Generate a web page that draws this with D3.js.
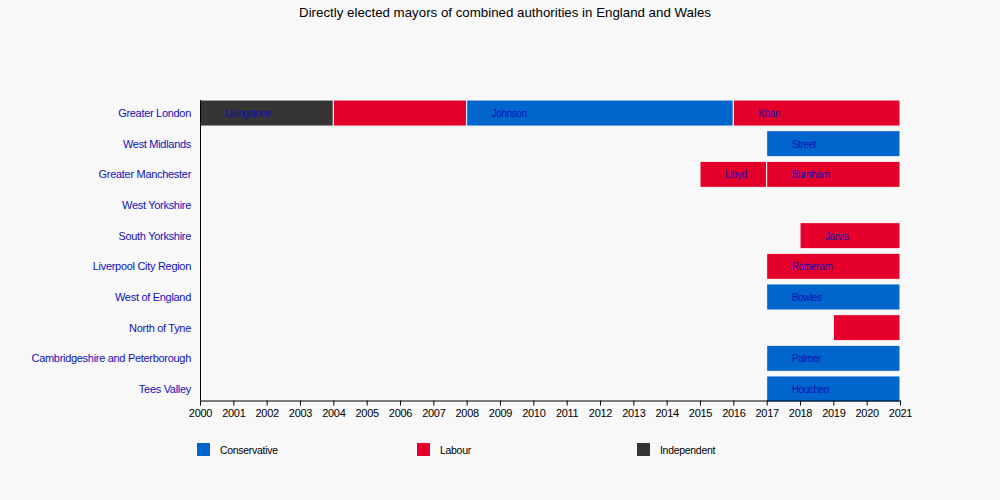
<!DOCTYPE html>
<html><head><meta charset="utf-8">
<script src="https://cdn.jsdelivr.net/npm/d3@7"></script>
<style>
body{margin:0;background:#f8f8f8;}
svg{display:block;font-family:"Liberation Sans",Arial,sans-serif;}
</style></head>
<body><svg id="c" width="1000" height="500"></svg>
<script>
const title = "Directly elected mayors of combined authorities in England and Wales";
const regions = ["Greater London","West Midlands","Greater Manchester","West Yorkshire","South Yorkshire","Liverpool City Region","West of England","North of Tyne","Cambridgeshire and Peterborough","Tees Valley"];
const years = d3.range(2000, 2022);
const parties = ["Conservative","Labour","Independent"];
const partyColors = ["#0066cc","#e4002b","#353535"];
// terms: region, start, end, party, mayor label
const termRegion = ["Greater London","Greater London","Greater London","Greater London","West Midlands","Greater Manchester","Greater Manchester","South Yorkshire","Liverpool City Region","West of England","North of Tyne","Cambridgeshire and Peterborough","Tees Valley"];
const termStart = [2000,2004,2008,2016,2017,2015,2017,2018,2017,2017,2019,2017,2017];
const termEnd   = [2004,2008,2016,2021,2021,2017,2021,2021,2021,2021,2021,2021,2021];
const termParty = ["Independent","Labour","Conservative","Labour","Conservative","Labour","Labour","Labour","Labour","Conservative","Labour","Conservative","Conservative"];
const termLabel = ["Livingstone","","Johnson","Khan","Street","Lloyd","Burnham","Jarvis","Rotheram","Bowles","","Palmer","Houchen"];

const terms = termRegion.map((r,i)=>({region:r,start:termStart[i],end:termEnd[i],party:termParty[i],label:termLabel[i]}));

const svg = d3.select("#c");
const x = d3.scaleLinear().domain([2000,2021]).range([200,900]);
const y = d3.scaleBand().domain(regions).range([100,402]).paddingInner(0.15).paddingOuter(0);
const color = d3.scaleOrdinal().domain(parties).range(partyColors);

svg.append("text").attr("x",505).attr("y",17).attr("text-anchor","middle")
  .attr("font-size",13.3).attr("fill","#000").text(title);

svg.append("g").selectAll("rect").data(terms).join("rect")
  .attr("x",d=>x(d.start)).attr("width",d=>x(d.end)-x(d.start))
  .attr("y",d=>y(d.region)).attr("height",y.bandwidth())
  .attr("fill",d=>color(d.party)).attr("stroke","#fff").attr("stroke-width",1);

svg.append("g").selectAll("text").data(terms.filter(d=>d.label)).join("text")
  .attr("x",d=>x(d.start)+25).attr("y",d=>y(d.region)+y.bandwidth()/2+4)
  .attr("font-size",10).attr("fill","#1010b8").attr("letter-spacing",-0.4).text(d=>d.label);

// y labels
svg.append("g").selectAll("text").data(regions).join("text")
  .attr("x",191).attr("y",d=>y(d)+y.bandwidth()/2+4).attr("text-anchor","end")
  .attr("font-size",11).attr("fill","#1010b8").attr("letter-spacing",-0.3).text(d=>d);

// y axis line
svg.append("line").attr("x1",200.5).attr("x2",200.5).attr("y1",100).attr("y2",400.5).attr("stroke","#000");

const xa = svg.append("g").attr("transform","translate(0,400.5)")
  .call(d3.axisBottom(x).tickValues(years).tickFormat(d3.format("d")).tickSize(5).tickSizeOuter(0));
xa.select(".domain").attr("stroke","#000");
xa.selectAll("text").attr("font-size",11).attr("fill","#000").attr("dy","0.8em").attr("letter-spacing",-0.3).attr("font-family","Liberation Sans, Arial, sans-serif");

// legend
const lg = svg.append("g").selectAll("g").data(parties).join("g")
  .attr("transform",(d,i)=>`translate(${197+i*220},443)`);
lg.append("rect").attr("width",13).attr("height",13).attr("fill",d=>color(d));
lg.append("text").attr("x",23).attr("y",11).attr("font-size",10.5).attr("fill","#000").attr("letter-spacing",-0.3).text(d=>d);
</script></body></html>
